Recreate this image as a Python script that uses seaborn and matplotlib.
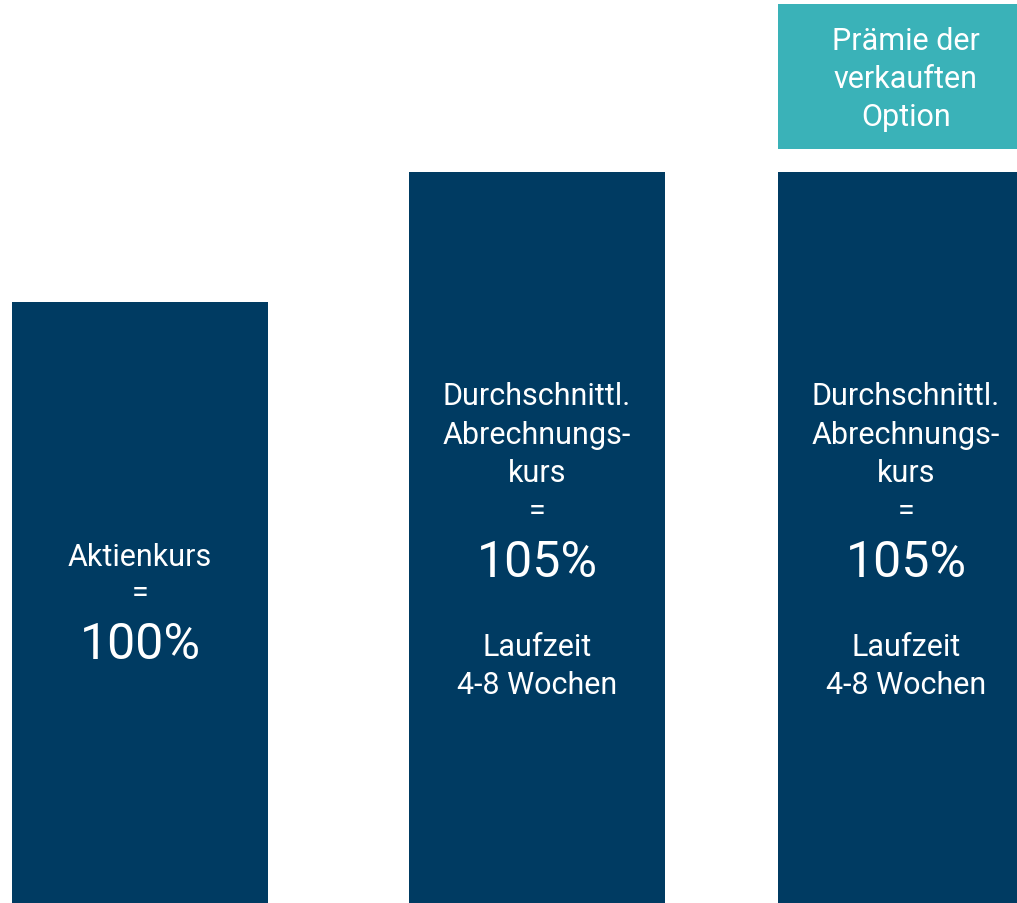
import matplotlib
matplotlib.use("Agg")
import matplotlib.pyplot as plt
import pandas as pd
import seaborn as sns

# schematic bar heights (chart is not to scale)
positions = [140, 537, 906]
base_heights = [601, 731, 731]
premium_bottom = [754]
premium_height = [145]
premium_pos = [906]

navy = "#003B62"
teal = "#3AB2B8"

bar_lines = [
    ["Aktienkurs", "=", "100%"],
    ["Durchschnittl.", "Abrechnungs-", "kurs", "=", "105%", "", "Laufzeit", "4-8 Wochen"],
    ["Durchschnittl.", "Abrechnungs-", "kurs", "=", "105%", "", "Laufzeit", "4-8 Wochen"],
]
premium_lines = ["Prämie der", "verkauften", "Option"]


def main():
    sns.set_theme(style="white")
    plt.rcParams["font.family"] = ["Roboto", "DejaVu Sans"]

    df = pd.DataFrame({"pos": positions, "height": base_heights})

    fig = plt.figure(figsize=(10.17, 9.04), dpi=100)
    ax = fig.add_axes([0, 0, 1, 1])

    sns.barplot(data=df, x="pos", y="height", native_scale=True, width=256 / 369,
                color=navy, saturation=1, linewidth=0, ax=ax)
    ax.bar(premium_pos, premium_height, bottom=premium_bottom, width=256,
           color=teal, linewidth=0)

    ax.set_xlim(0, 1017)
    ax.set_ylim(0, 904)
    ax.axis("off")

    # text inside the bars, one line at a time (y in pixels from top)
    line_y = {
        0: [557, 594, 645],
        1: [397, 436, 474, 511, 563, 0, 647, 686],
        2: [397, 436, 474, 511, 563, 0, 647, 686],
    }
    for i, lines in enumerate(bar_lines):
        for txt, yp in zip(lines, line_y[i]):
            if not txt:
                continue
            big = txt.endswith("%")
            ax.text(positions[i], 904 - yp, txt, ha="center", va="center",
                    color="white", fontsize=36 if big else 22)

    for txt, yp in zip(premium_lines, [42, 80, 118]):
        ax.text(premium_pos[0], 904 - yp, txt, ha="center", va="center",
                color="white", fontsize=22)

    fig.savefig("out.png", dpi=100)


if __name__ == "__main__":
    main()
